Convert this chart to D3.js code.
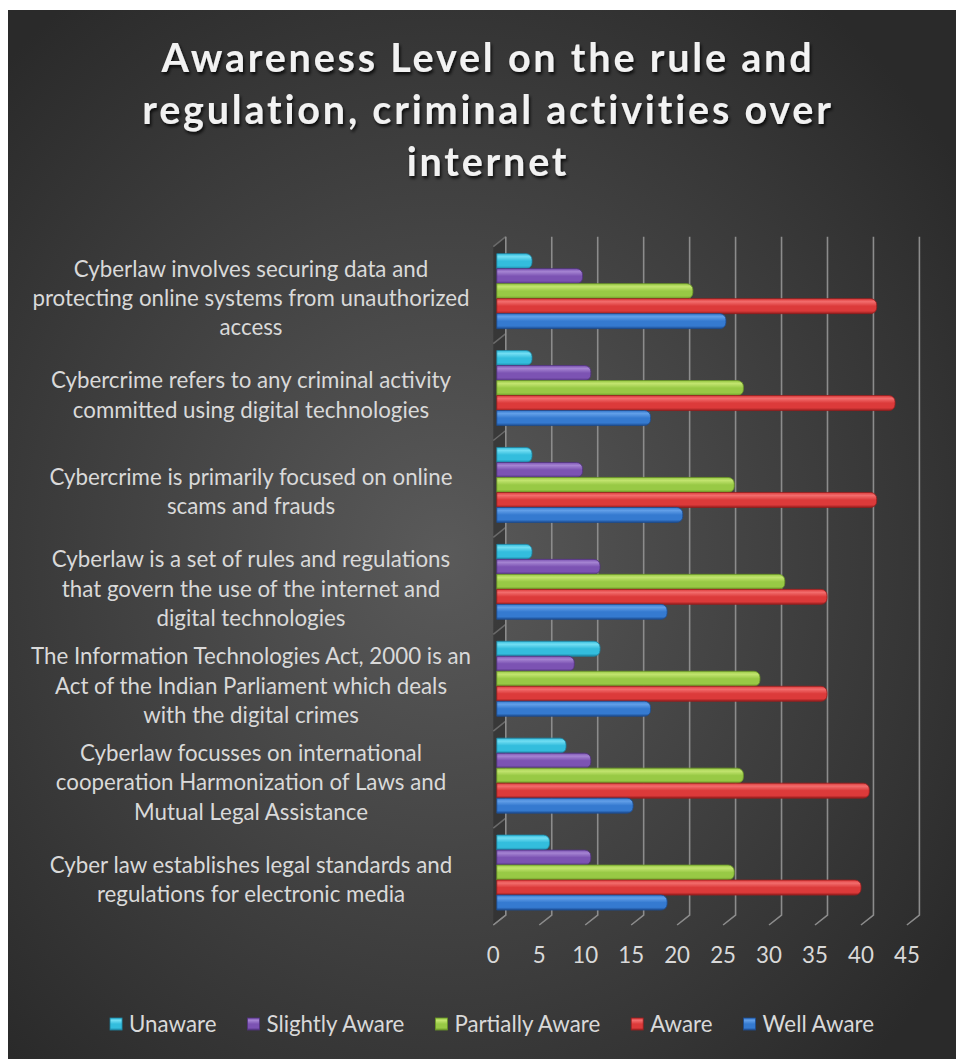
<!DOCTYPE html>
<html>
<head>
<meta charset="utf-8">
<script src="https://cdn.jsdelivr.net/npm/d3@7"></script>
<style>
  body { margin: 0; background: #fff; }
  svg text { font-family: Lato, "Open Sans", sans-serif; }
</style>
</head>
<body>
<div id="chart"></div>
<script>
// Categories, listed top to bottom as drawn (line breaks as in the original)
const categories = [
    "Cyberlaw involves securing data and\nprotecting online systems from unauthorized\naccess",
    "Cybercrime refers to any criminal activity\ncommitted using digital technologies",
    "Cybercrime is primarily focused on online\nscams and frauds",
    "Cyberlaw is a set of rules and regulations\nthat govern the use of the internet and\ndigital technologies",
    "The Information Technologies Act, 2000 is an\nAct of the Indian Parliament which deals\nwith the digital crimes",
    "Cyberlaw focusses on international\ncooperation Harmonization of Laws and\nMutual Legal Assistance",
    "Cyber law establishes legal standards and\nregulations for electronic media"
];

const seriesNames = ["Unaware", "Slightly Aware", "Partially Aware", "Aware", "Well Aware"];

// values per category (same order as categories)
const unaware       = [3.7, 3.7, 3.7, 3.7, 11.1, 7.4, 5.6];
const slightlyAware = [9.2, 10.1, 9.2, 11.1, 8.3, 10.1, 10.1];
const partiallyAware = [21.2, 26.7, 25.7, 31.2, 28.5, 26.7, 25.7];
const aware         = [41.2, 43.2, 41.2, 35.8, 35.8, 40.4, 39.5];
const wellAware     = [24.8, 16.6, 20.1, 18.4, 16.6, 14.7, 18.4];

const xTicks = [0, 5, 10, 15, 20, 25, 30, 35, 40, 45];

const series = [unaware, slightlyAware, partiallyAware, aware, wellAware];

// colours: light, base, dark
const palette = [
    ["#72def3", "#33bddd", "#1c87a5"],
    ["#a584d2", "#7c53b3", "#52327f"],
    ["#c2e46f", "#98c945", "#699726"],
    ["#f26d6d", "#dc3a3a", "#981e1e"],
    ["#629fe8", "#357ad0", "#1d4d91"]
];

var W = 956, H = 1059;
var svg = d3.select("#chart").append("svg")
    .attr("width", W)
    .attr("height", H);

var defs = svg.append("defs");

// background gradient
var bg = defs.append("radialGradient")
    .attr("id", "bg")
    .attr("cx", "46%").attr("cy", "52%").attr("r", "66%");
bg.append("stop").attr("offset", "0%").attr("stop-color", "#5a5a5a");
bg.append("stop").attr("offset", "100%").attr("stop-color", "#2a2a2a");

palette.forEach(function(c, i) {
    var g = defs.append("linearGradient")
        .attr("id", "bar" + i)
        .attr("x1", 0).attr("y1", 0).attr("x2", 0).attr("y2", 1);
    g.append("stop").attr("offset", "0%").attr("stop-color", c[1]);
    g.append("stop").attr("offset", "20%").attr("stop-color", c[0]);
    g.append("stop").attr("offset", "50%").attr("stop-color", c[1]);
    g.append("stop").attr("offset", "82%").attr("stop-color", c[1]);
    g.append("stop").attr("offset", "100%").attr("stop-color", c[2]);
});

var shadow = defs.append("filter").attr("id", "shadow")
    .attr("x", "-10%").attr("y", "-30%").attr("width", "120%").attr("height", "160%");
shadow.append("feDropShadow")
    .attr("dx", 1.5).attr("dy", 2.5).attr("stdDeviation", 1.5)
    .attr("flood-color", "#000").attr("flood-opacity", 0.8);

svg.append("rect")
    .attr("x", 8).attr("y", 10)
    .attr("width", W - 8).attr("height", H - 10)
    .attr("fill", "url(#bg)");

// plot geometry (front plane) and depth offset of the back wall
var yTop = 246.7, yBot = 925;
var depth = {x: 12.5, y: -10};
var barShift = {x: 3.5, y: -4};

var x = d3.scaleLinear()
    .domain([0, 45])
    .range([493.3, 906.9]);

var y = d3.scaleBand()
    .domain(d3.range(categories.length))
    .range([yTop, yBot])
    .paddingInner(0.226)
    .paddingOuter(0.113);

var ys = d3.scaleBand()
    .domain(d3.range(seriesNames.length))
    .range([0, y.bandwidth()]);

// left side wall
svg.append("path")
    .attr("d", `M${x(0)},${yTop} L${x(0) + depth.x},${yTop + depth.y} L${x(0) + depth.x},${yBot + depth.y} L${x(0)},${yBot} Z`)
    .attr("fill", "#2f2f2f")
    .attr("fill-opacity", 0.7);

svg.append("g")
    .selectAll("path")
    .data(d3.range(categories.length + 1))
    .enter()
    .append("path")
    .attr("d", (i) => {
        var yy = yTop + i * y.step();
        return `M${x(0)},${yy} L${x(0) + depth.x},${yy + depth.y}`;
    })
    .attr("stroke", "#6a6a6a")
    .attr("stroke-width", 1.5);

// gridlines: back wall + floor
svg.append("g")
    .selectAll("path")
    .data(xTicks)
    .enter()
    .append("path")
    .attr("d", (t) => `M${x(t) + depth.x},${yTop + depth.y} L${x(t) + depth.x},${yBot + depth.y} L${x(t)},${yBot}`)
    .attr("fill", "none")
    .attr("stroke", "#8c8c8c")
    .attr("stroke-width", 1.6);

// bars
var barPath = function(x0, x1, y0, h) {
    var r = Math.min(6, (x1 - x0) / 2);
    return `M${x0},${y0} H${x1 - r} A${r},${r} 0 0 1 ${x1},${y0 + r} V${y0 + h - r} A${r},${r} 0 0 1 ${x1 - r},${y0 + h} H${x0} Z`;
};

var bars = [];
categories.forEach(function(c, ci) {
    series.forEach(function(s, si) {
        bars.push({cat: ci, ser: si, value: s[ci]});
    });
});

svg.append("g")
    .selectAll("path")
    .data(bars)
    .enter()
    .append("path")
    .attr("d", (d) => barPath(x(0) + barShift.x, x(d.value) + 4.7,
        y(d.cat) + ys(d.ser) + barShift.y, ys.bandwidth()))
    .attr("fill", (d) => `url(#bar${d.ser})`)
    .attr("stroke", (d) => palette[d.ser][2])
    .attr("stroke-width", 0.8);

// category labels
var labelSize = 22.3;
var catG = svg.append("g")
    .selectAll("text")
    .data(categories)
    .enter()
    .append("text")
    .attr("text-anchor", "middle")
    .attr("fill", "#d9d9d9")
    .style("font-size", labelSize + "px");

catG.each(function(c, i) {
    var lines = c.split("\n");
    var cy = y(i) + y.bandwidth() / 2 + 3;
    var lh = 29.3;
    d3.select(this).selectAll("tspan")
        .data(lines)
        .enter()
        .append("tspan")
        .attr("x", 251)
        .attr("y", (l, k) => cy + (k - (lines.length - 1) / 2) * lh)
        .attr("dy", "0.35em")
        .text((l) => l);
});

// x tick labels
svg.append("g")
    .selectAll("text")
    .data(xTicks)
    .enter()
    .append("text")
    .attr("x", (t) => x(t))
    .attr("y", 955.5)
    .attr("dy", "0.35em")
    .attr("text-anchor", "middle")
    .attr("fill", "#d9d9d9")
    .style("font-size", labelSize + "px")
    .text((t) => t);

// title
var titleLines = ["Awareness Level on the rule and", "regulation, criminal activities over", "internet"];
svg.append("g")
    .selectAll("text")
    .data(titleLines)
    .enter()
    .append("text")
    .attr("x", 488)
    .attr("y", (t, i) => 58 + i * 52)
    .attr("dy", "0.35em")
    .attr("text-anchor", "middle")
    .attr("fill", "#f2f2f2")
    .attr("filter", "url(#shadow)")
    .style("font-size", "39.5px")
    .style("font-weight", "bold")
    .style("letter-spacing", "2.8px")
    .text((t) => t);

// legend
var legend = svg.append("g");
var items = legend.selectAll("g")
    .data(seriesNames)
    .enter()
    .append("g");

items.append("rect")
    .attr("width", 12).attr("height", 12)
    .attr("y", -6)
    .attr("fill", (d, i) => `url(#bar${i})`)
    .attr("stroke", (d, i) => palette[i][2])
    .attr("stroke-width", 0.8);

items.append("text")
    .attr("x", 19)
    .attr("dy", "0.35em")
    .attr("fill", "#d9d9d9")
    .style("font-size", labelSize + "px")
    .text((d) => d);

var offs = [], pos = 0;
items.each(function() {
    offs.push(pos);
    pos += 19 + d3.select(this).select("text").node().getComputedTextLength() + 31;
});
var total = pos - 31;
var lx = 492 - total / 2;
items.attr("transform", (d, i) => `translate(${lx + offs[i]},1024)`);
</script>
</body>
</html>
